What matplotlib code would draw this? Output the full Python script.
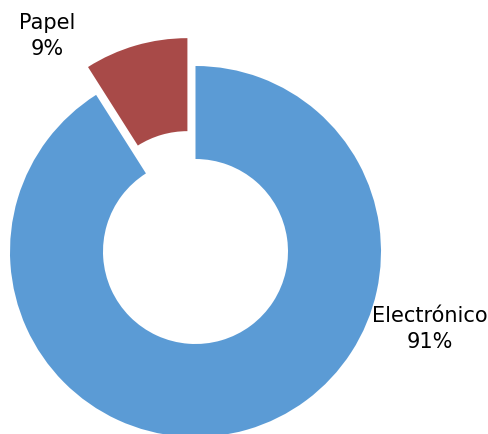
import matplotlib
matplotlib.use('Agg')
import matplotlib.pyplot as plt

labels = ['Electrónico', 'Papel']
values = [91, 9]
colors = ['#5B9BD5', '#A84A48']
# explode offset is in data units here (pixel-sized axes)
explode = [0, 29]


def main():
    fig = plt.figure(figsize=(4.88, 4.34), dpi=100)
    ax = fig.add_axes([0, 0, 1, 1])

    ax.pie(values, colors=colors, explode=explode, startangle=90, counterclock=False,
           center=(195.5, 182.5), radius=185.5, frame=True,
           wedgeprops=dict(width=93, linewidth=0))
    # axes in pixel units, y going up
    ax.set_xlim(0, 488)
    ax.set_ylim(0, 434)
    ax.set_aspect('equal')
    ax.axis('off')

    ax.text(47, 398, '{}\n{}%'.format(labels[1], values[1]), ha='center', va='center',
            fontsize=15, linespacing=1.4, color='black')
    ax.text(430, 105, '{}\n{}%'.format(labels[0], values[0]), ha='center', va='center',
            fontsize=15, linespacing=1.4, color='black')

    fig.savefig('out.png', dpi=100)


if __name__ == '__main__':
    main()
